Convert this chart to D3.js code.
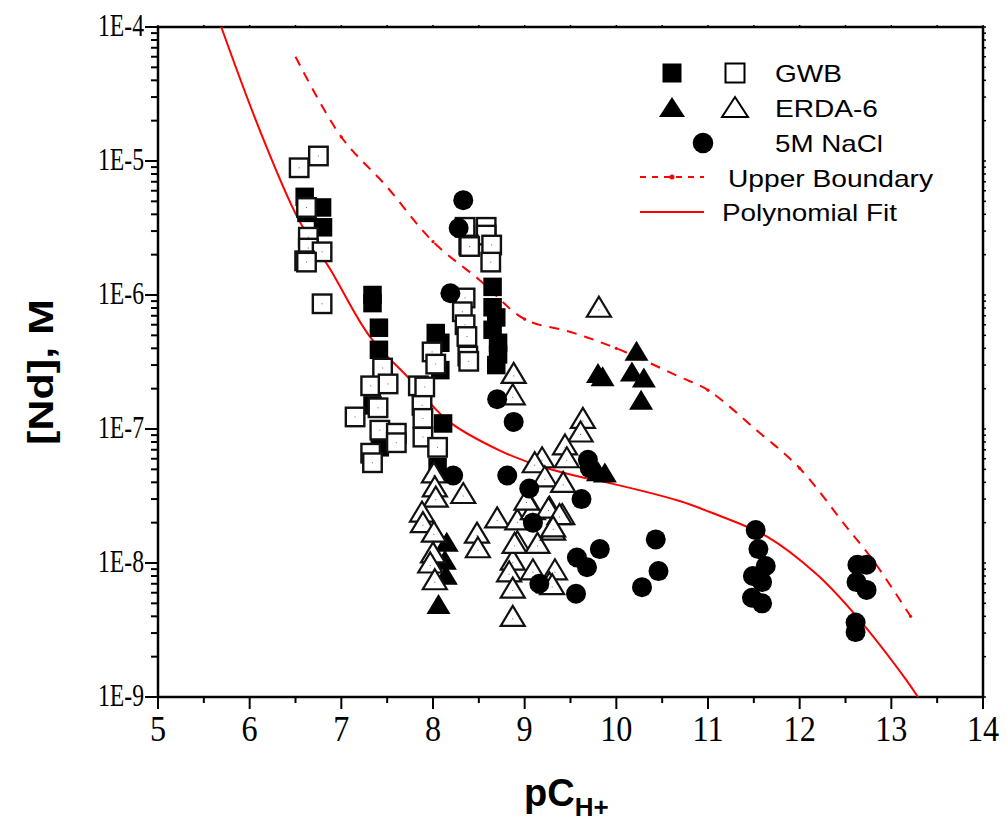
<!DOCTYPE html>
<html>
<head>
<meta charset="utf-8">
<script src="https://cdn.jsdelivr.net/npm/d3@7"></script>
<style>
  html, body { margin: 0; padding: 0; background: #fff; }
  svg { display: block; }
</style>
</head>
<body>
<svg id="chart" width="1006" height="821"></svg>
<script>
/* ------------------ data ------------------ */

// [pCH+, [Nd] M]
const gwbFilled = [
  [6.60, 5.4e-6], [6.79, 4.5e-6], [6.80, 3.2e-6], [6.62, 4.1e-6],
  [7.34, 1.0e-6], [7.34, 8.7e-7], [7.41, 5.7e-7], [7.41, 3.9e-7],
  [7.34, 1.5e-7], [7.42, 7.3e-8],
  [8.03, 5.2e-7], [8.08, 4.4e-7], [8.08, 2.75e-7], [8.11, 1.1e-7], [8.05, 5.2e-8],
  [8.65, 1.15e-6], [8.65, 8.1e-7], [8.69, 6.8e-7], [8.65, 5.5e-7],
  [8.71, 4.4e-7], [8.71, 3.6e-7], [8.69, 3.0e-7]
];

const gwbOpen = [
  [6.75, 1.09e-5], [6.54, 8.9e-6], [6.62, 4.5e-6], [6.64, 2.7e-6], [6.64, 2.24e-6],
  [6.79, 2.1e-6], [6.60, 1.8e-6], [6.62, 1.76e-6], [6.79, 8.6e-7],
  [7.45, 2.85e-7], [7.32, 2.1e-7], [7.51, 2.17e-7], [7.15, 1.23e-7], [7.40, 1.44e-7],
  [7.42, 9.8e-8], [7.60, 9.3e-8], [7.60, 7.9e-8], [7.32, 6.6e-8], [7.34, 5.6e-8],
  [7.99, 3.76e-7], [8.03, 3.05e-7], [7.84, 2.1e-7], [7.91, 2.06e-7], [7.88, 1.5e-7],
  [7.89, 1.2e-7], [7.89, 8.7e-8], [8.05, 7.3e-8],
  [8.35, 3.2e-6], [8.58, 3.2e-6], [8.58, 2.8e-6], [8.39, 2.36e-6], [8.64, 2.36e-6],
  [8.63, 1.76e-6], [8.40, 2.3e-6],
  [8.35, 9.5e-7], [8.32, 7.5e-7], [8.35, 6.0e-7], [8.37, 4.9e-7], [8.38, 3.5e-7], [8.39, 3.2e-7]
];

const erdaFilled = [
  [9.80, 2.6e-7], [9.85, 2.45e-7], [10.22, 3.8e-7], [10.17, 2.66e-7],
  [10.30, 2.4e-7], [10.27, 1.64e-7], [9.875, 4.7e-8], [9.80, 4.8e-8],
  [8.15, 1.43e-8], [8.13, 1.05e-8], [8.14, 8.1e-9], [8.06, 4.9e-9]
];

const erdaOpen = [
  [9.81, 8.1e-7], [8.88, 2.6e-7], [8.87, 1.8e-7], [9.635, 1.2e-7], [9.61, 9.5e-8],
  [9.44, 7.6e-8], [9.46, 6.1e-8], [9.19, 6.1e-8], [9.11, 5.6e-8], [9.22, 4.4e-8], [9.42, 4.0e-8],
  [8.01, 4.7e-8], [8.02, 3.7e-8], [8.03, 3.1e-8], [8.33, 3.3e-8], [7.88, 2.4e-8],
  [7.89, 2.0e-8], [8.01, 1.7e-8], [8.00, 1.19e-8], [7.97, 1.0e-8], [8.02, 7.5e-9],
  [8.48, 1.67e-8], [8.49, 1.3e-8], [8.70, 2.17e-8], [8.92, 2.1e-8], [8.92, 1.44e-8],
  [8.87, 1.05e-8], [8.83, 8.6e-9], [8.87, 6.5e-9], [8.87, 4.0e-9], [9.14, 1.4e-8],
  [9.27, 2.6e-8], [9.41, 2.3e-8], [9.31, 1.76e-8], [9.09, 8.9e-9], [9.33, 8.9e-9],
  [9.27, 7.1e-9], [9.09, 2.5e-8], [9.02, 2.95e-8], [9.26, 2.57e-8], [9.38, 2.3e-8],
  [9.31, 1.86e-8], [8.89, 1.4e-8], [9.30, 6.9e-9]
];

const naclFilled = [
  [8.33, 5.1e-6], [8.28, 3.16e-6], [8.19, 1.03e-6], [8.70, 1.67e-7], [8.88, 1.13e-7],
  [8.22, 4.5e-8], [8.81, 4.5e-8], [9.05, 3.6e-8], [9.62, 3.0e-8], [9.09, 2.0e-8],
  [9.57, 1.1e-8], [9.68, 9.3e-9], [9.82, 1.27e-8], [9.16, 7.0e-9], [9.56, 5.9e-9],
  [10.43, 1.5e-8], [10.46, 8.7e-9], [10.28, 6.6e-9], [9.69, 5.9e-8], [9.71, 5.1e-8],
  [11.52, 1.76e-8], [11.55, 1.27e-8], [11.63, 9.5e-9], [11.49, 8.0e-9], [11.59, 7.2e-9],
  [11.48, 5.5e-9], [11.59, 5.0e-9],
  [12.63, 9.7e-9], [12.73, 9.7e-9], [12.62, 7.2e-9], [12.73, 6.3e-9],
  [12.61, 3.6e-9], [12.61, 3.05e-9]
];

const upperBoundary = [
  [6.50, 6.0e-5], [7.00, 1.51e-5], [7.49, 6.5e-6], [8.00, 2.5e-6], [8.51, 1.29e-6],
  [9.00, 6.6e-7], [9.50, 5.3e-7], [10.00, 4.0e-7], [10.69, 2.45e-7], [11.00, 1.95e-7],
  [11.53, 9.8e-8], [12.00, 5.1e-8], [12.51, 1.86e-8], [12.80, 1.05e-8], [13.21, 4.0e-9]
];
// dot symbols sit on the boundary at these pCH+ values
const upperDots = [7, 8, 9, 10, 11, 12, 13.21];

const polyFit = [
  [5.69, 1.0e-4], [6.11, 1.7e-5], [6.53, 3.7e-6], [6.88, 1.55e-6], [7.31, 4.9e-7],
  [7.75, 2.34e-7], [8.15, 1.17e-7], [8.73, 6.9e-8], [9.20, 5.2e-8], [9.60, 4.4e-8],
  [9.82, 4.1e-8], [10.69, 2.9e-8], [11.02, 2.4e-8], [11.64, 1.58e-8], [12.18, 8.3e-9],
  [12.62, 4.0e-9], [13.16, 1.35e-9], [13.29, 1.0e-9]
];

const xTicks = [5, 6, 7, 8, 9, 10, 11, 12, 13, 14];
const yTicks = [1e-4, 1e-5, 1e-6, 1e-7, 1e-8, 1e-9];
const yTickLabels = ["1E-4", "1E-5", "1E-6", "1E-7", "1E-8", "1E-9"];

const legendItems = ["GWB", "ERDA-6", "5M NaCl", "Upper Boundary", "Polynomial Fit"];

/* ------------------ constants ------------------ */

const PLOT = { left: 158, right: 983, top: 27, bottom: 697 };
const RED = "#ff0000";
const SQ = 18.5;
const SERIF = "'Liberation Serif', 'Times New Roman', serif";
const SANS = "'Liberation Sans', Arial, sans-serif";

/* ------------------ scales ------------------ */

const svg = d3.select("#chart");

const x = d3.scaleLinear().domain([5, 14]).range([PLOT.left, PLOT.right]);
const y = d3.scaleLog().domain([1e-9, 1e-4]).range([PLOT.bottom, PLOT.top]);

// squeeze text horizontally (the source font is a narrow Times)
function squeeze(sel, f) {
  sel.each(function () {
    const len = this.getComputedTextLength();
    d3.select(this).attr("textLength", len * f).attr("lengthAdjust", "spacingAndGlyphs");
  });
}

/* ------------------ axes ------------------ */

const minorX = d3.range(5.5, 14, 1);
const minorY = [];
for (let e = -9; e < -4; e++) for (let k = 2; k <= 9; k++) minorY.push(k * Math.pow(10, e));

const axisG = svg.append("g").attr("stroke", "#000").attr("stroke-width", 2);

// bottom ticks
axisG.selectAll("line.xmaj").data(xTicks).join("line")
  .attr("x1", d => x(d)).attr("x2", d => x(d))
  .attr("y1", PLOT.bottom).attr("y2", PLOT.bottom + 12);
axisG.selectAll("line.xmin").data(minorX).join("line")
  .attr("x1", d => x(d)).attr("x2", d => x(d))
  .attr("y1", PLOT.bottom).attr("y2", PLOT.bottom + 6);
// top ticks (tiny)
axisG.selectAll("line.xtop").data(xTicks.concat(minorX)).join("line")
  .attr("x1", d => x(d)).attr("x2", d => x(d))
  .attr("y1", PLOT.top).attr("y2", PLOT.top - 2).attr("stroke-width", 1.5);

// left ticks
axisG.selectAll("line.ymaj").data(yTicks).join("line")
  .attr("x1", PLOT.left - 13).attr("x2", PLOT.left)
  .attr("y1", d => y(d)).attr("y2", d => y(d));
axisG.selectAll("line.ymin").data(minorY).join("line")
  .attr("x1", PLOT.left - 7).attr("x2", PLOT.left)
  .attr("y1", d => y(d)).attr("y2", d => y(d));
// right ticks (tiny)
axisG.selectAll("line.yright").data(yTicks.concat(minorY)).join("line")
  .attr("x1", PLOT.right).attr("x2", PLOT.right + 3)
  .attr("y1", d => y(d)).attr("y2", d => y(d)).attr("stroke-width", 1.5);

// frame
svg.append("rect")
  .attr("x", PLOT.left).attr("y", PLOT.top)
  .attr("width", PLOT.right - PLOT.left).attr("height", PLOT.bottom - PLOT.top)
  .attr("fill", "none").attr("stroke", "#000").attr("stroke-width", 2.5);

// tick labels
svg.append("g").selectAll("text").data(xTicks).join("text")
  .attr("x", d => x(d)).attr("y", 741)
  .attr("text-anchor", "middle")
  .attr("font-family", SERIF)
  .attr("font-size", 35)
  .text(d => d)
  .call(squeeze, 0.92);

svg.append("g").selectAll("text").data(yTicks).join("text")
  .attr("x", 144).attr("y", d => y(d) + 9)
  .attr("text-anchor", "end")
  .attr("font-family", SERIF)
  .attr("font-size", 32)
  .attr("textLength", 46)
  .attr("lengthAdjust", "spacingAndGlyphs")
  .text((d, i) => yTickLabels[i]);

// axis titles
svg.append("text")
  .attr("transform", "translate(53,372) rotate(-90)")
  .attr("text-anchor", "middle")
  .attr("font-family", SANS)
  .attr("font-weight", "bold")
  .attr("font-size", 35)
  .attr("textLength", 146)
  .attr("lengthAdjust", "spacingAndGlyphs")
  .text("[Nd], M");

const xt = svg.append("text")
  .attr("x", 524).attr("y", 806)
  .attr("font-family", SANS)
  .attr("font-weight", "bold")
  .attr("font-size", 38);
xt.append("tspan").text("pC");
xt.append("tspan").attr("font-size", 26).attr("dy", 10).text("H+");

/* ------------------ curves ------------------ */

const plotG = svg.append("g");

const line = d3.line()
  .x(d => x(d[0]))
  .y(d => y(d[1]))
  .curve(d3.curveCatmullRom.alpha(0.5));

plotG.append("path")
  .datum(polyFit)
  .attr("d", line)
  .attr("fill", "none").attr("stroke", RED).attr("stroke-width", 2);

const ubPath = plotG.append("path")
  .datum(upperBoundary)
  .attr("d", line)
  .attr("fill", "none").attr("stroke", RED).attr("stroke-width", 2)
  .attr("stroke-dasharray", "10,8")
  .node();

// boundary dots, placed on the drawn path
const ubLen = ubPath.getTotalLength();
function pointAtX(px) {
  let lo = 0, hi = ubLen;
  for (let i = 0; i < 40; i++) {
    const mid = (lo + hi) / 2;
    if (ubPath.getPointAtLength(mid).x < px) lo = mid; else hi = mid;
  }
  return ubPath.getPointAtLength(lo);
}
plotG.selectAll("circle.ubdot").data(upperDots).join("circle")
  .attr("cx", d => pointAtX(x(d)).x)
  .attr("cy", d => pointAtX(x(d)).y)
  .attr("r", 1.6).attr("fill", RED);

/* ------------------ markers ------------------ */

const triPath = "M0,-10.5L12,9.5L-12,9.5Z";

function squares(data, filled) {
  const g = plotG.append("g").selectAll("g").data(data).join("g")
    .attr("transform", d => `translate(${x(d[0])},${y(d[1])})`);
  g.append("rect")
    .attr("x", -SQ / 2).attr("y", -SQ / 2).attr("width", SQ).attr("height", SQ)
    .attr("fill", filled ? "#000" : "#fff")
    .attr("stroke", filled ? "none" : "#111").attr("stroke-width", 2.4);
  if (!filled) g.append("rect").attr("x", -0.5).attr("y", -0.5).attr("width", 1).attr("height", 1).attr("fill", "#666");
}

function triangles(data, filled) {
  const g = plotG.append("g").selectAll("g").data(data).join("g")
    .attr("transform", d => `translate(${x(d[0])},${y(d[1])})`);
  g.append("path")
    .attr("d", triPath)
    .attr("fill", filled ? "#000" : "#fff")
    .attr("stroke", filled ? "none" : "#111").attr("stroke-width", 2.2)
    .attr("stroke-linejoin", "miter");
  if (!filled) g.append("rect").attr("x", -0.5).attr("y", 2).attr("width", 1).attr("height", 1).attr("fill", "#666");
}

squares(gwbFilled, true);
squares(gwbOpen, false);
triangles(erdaFilled, true);
triangles(erdaOpen, false);

plotG.append("g").selectAll("circle").data(naclFilled).join("circle")
  .attr("cx", d => x(d[0])).attr("cy", d => y(d[1]))
  .attr("r", 10).attr("fill", "#000");

/* ------------------ legend ------------------ */

const lg = svg.append("g")
  .attr("font-family", SANS)
  .attr("font-size", 24);

lg.append("rect").attr("x", 672 - 9.5).attr("y", 73 - 9.5).attr("width", 19).attr("height", 19).attr("fill", "#000");
lg.append("rect").attr("x", 735 - 9.5).attr("y", 73 - 9.5).attr("width", 19).attr("height", 19)
  .attr("fill", "#fff").attr("stroke", "#000").attr("stroke-width", 2);
lg.append("path").attr("transform", "translate(672,107)").attr("d", "M0,-10L13,10L-13,10Z").attr("fill", "#000");
lg.append("path").attr("transform", "translate(735,107)").attr("d", "M0,-10L13,10L-13,10Z")
  .attr("fill", "#fff").attr("stroke", "#000").attr("stroke-width", 2);
lg.append("circle").attr("cx", 703).attr("cy", 143).attr("r", 10.3).attr("fill", "#000");

lg.append("line").attr("x1", 640).attr("x2", 704).attr("y1", 177).attr("y2", 177)
  .attr("stroke", RED).attr("stroke-width", 2).attr("stroke-dasharray", "6,6");
lg.append("circle").attr("cx", 672).attr("cy", 177).attr("r", 2.5).attr("fill", RED);
lg.append("line").attr("x1", 640).attr("x2", 704).attr("y1", 212).attr("y2", 212)
  .attr("stroke", RED).attr("stroke-width", 2);

const legendPos = [[775, 82, 67], [775, 117, 103], [775, 152, 108], [728, 187, 205], [722, 221, 175]];
lg.selectAll("text").data(legendItems).join("text")
  .attr("x", (d, i) => legendPos[i][0])
  .attr("y", (d, i) => legendPos[i][1])
  .attr("textLength", (d, i) => legendPos[i][2])
  .attr("lengthAdjust", "spacingAndGlyphs")
  .text(d => d);
</script>
</body>
</html>
